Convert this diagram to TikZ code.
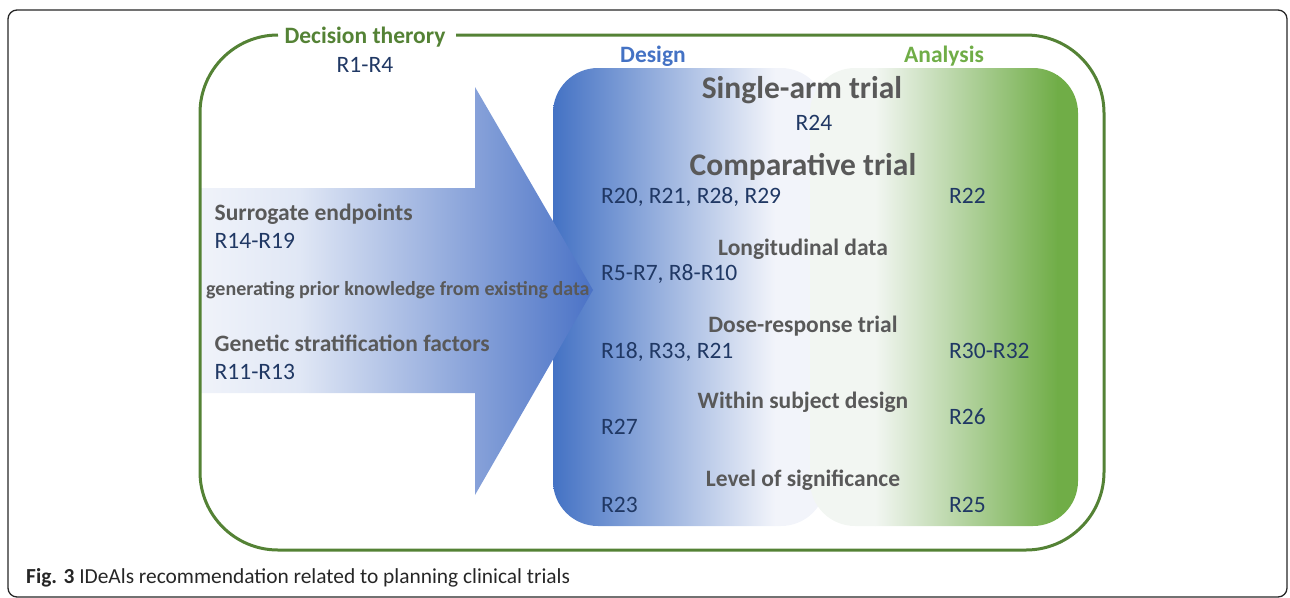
\documentclass[tikz,border=0pt]{standalone}
\usepackage{fontspec}
\setmainfont{Carlito}
\definecolor{cBlue}{HTML}{4472C4}
\definecolor{cPale}{HTML}{F2F4FA}
\definecolor{gPale}{HTML}{F2F6F2}
\definecolor{cGreen}{HTML}{70AD47}
\definecolor{aPale}{HTML}{F0F3FA}
\definecolor{aMid}{HTML}{E0E7F5}
\definecolor{aBlue}{HTML}{4A72C6}
\definecolor{headgrey}{HTML}{595959}
\definecolor{rnavy}{HTML}{203864}
\definecolor{dgreen}{HTML}{548235}
\tikzset{
  head/.style={font=\fontsize{23.5}{28}\selectfont\bfseries, text=headgrey, inner sep=0pt},
  bighead/.style={font=\fontsize{31.5}{36}\selectfont\bfseries, text=headgrey, inner sep=0pt},
  smallhead/.style={font=\fontsize{20}{24}\selectfont\bfseries, text=headgrey, inner sep=0pt},
  rlab/.style={font=\fontsize{23.5}{28}\selectfont, text=rnavy, inner sep=0pt},
  collab/.style={font=\fontsize{23.5}{28}\selectfont\bfseries, inner sep=0pt},
  frame/.style={draw=dgreen, line width=3pt, rounded corners=78}
}
\begin{document}
\begin{tikzpicture}[x=1pt,y=-1pt]
\useasboundingbox (0,0) rectangle (1290,597);
% outer black frame
\draw[line width=1.3pt, rounded corners=9, black!85] (8,10) rectangle (1287,597);
% design box
\begin{scope}
  \clip[rounded corners=45] (553,68) rectangle (826,526);
  \shade[left color=cBlue, right color=cPale] (553,60) rectangle (775,530);
  \fill[cPale] (774.5,60) rectangle (830,530);
\end{scope}
% analysis box
\begin{scope}
  \clip[rounded corners=45] (810,68) rectangle (1078,526);
  \fill[gPale] (805,60) rectangle (876,530);
  \shade[left color=gPale, right color=cGreen] (875,60) rectangle (1058,530);
  \fill[cGreen] (1057,60) rectangle (1080,530);
\end{scope}
% arrow
\coordinate (a1) at (200,188);
\coordinate (a2) at (475,188);
\coordinate (a3) at (475,87);
\coordinate (tip) at (593,290);
\coordinate (a5) at (475,495);
\coordinate (a6) at (475,393);
\coordinate (a7) at (200,393);
\begin{scope}
  \clip (a1) -- (a2) -- (a3) -- (tip) -- (a5) -- (a6) -- (a7) -- cycle;
  \shade[left color=aPale, right color=aMid] (200,80) rectangle (300,500);
  \shade[left color=aMid, right color=aBlue] (299.5,80) rectangle (594,500);
\end{scope}
% green frame
\draw[frame] (456,35) -- (1104,35) -- (1104,550) -- (200,550) -- (200,35) -- (278,35);
% labels
\node[collab, text=dgreen, anchor=base] (dt) at (365,43) {Decision therory};
\node[rlab, anchor=base] (r14) at (365,72) {R1-R4};
\node[collab, text=cBlue, anchor=base] (design) at (653,62) {Design};
\node[collab, text=cGreen, anchor=base] (analysis) at (944,62) {Analysis};
% left arrow texts
\node[head, anchor=base west] (sur) at (214.5,220) {Surrogate endpoints};
\node[rlab, anchor=base west] (r1419) at (214.5,248) {R14-R19};
\node[smallhead, anchor=base west] (gen) at (206,295) {generating prior knowledge from existing data};
\node[head, anchor=base west] (genet) at (214.5,351) {Genetic stratification factors};
\node[rlab, anchor=base west] (r1113) at (214.5,379) {R11-R13};
% box texts
\node[bighead, anchor=base] (single) at (802,98) {Single-arm trial};
\node[rlab, anchor=base] (r24) at (814,130) {R24};
\node[bighead, anchor=base] (comp) at (803,175) {Comparative trial};
\node[rlab, anchor=base west] (rcompd) at (601,203) {R20, R21, R28, R29};
\node[rlab, anchor=base west] (rcompa) at (949,203) {R22};
\node[head, anchor=base] (long) at (803,255) {Longitudinal data};
\node[rlab, anchor=base west] (rlong) at (601,280) {R5-R7, R8-R10};
\node[head, anchor=base] (dose) at (803,332) {Dose-response trial};
\node[rlab, anchor=base west] (rdosed) at (601,358) {R18, R33, R21};
\node[rlab, anchor=base west] (rdosea) at (949,358) {R30-R32};
\node[head, anchor=base] (within) at (803,408) {Within subject design};
\node[rlab, anchor=base west] (rwd) at (601,434) {R27};
\node[rlab, anchor=base west] (rwa) at (949,424) {R26};
\node[head, anchor=base] (level) at (803,486) {Level of significance};
\node[rlab, anchor=base west] (rld) at (601,512) {R23};
\node[rlab, anchor=base west] (rla) at (949,512) {R25};
% caption
\node[font=\fontsize{21.4}{25}\selectfont, text=black!85, anchor=base west, inner sep=0pt] (cap) at (26,583) {\textbf{Fig. 3} IDeAls recommendation related to planning clinical trials};
\end{tikzpicture}
\end{document}
